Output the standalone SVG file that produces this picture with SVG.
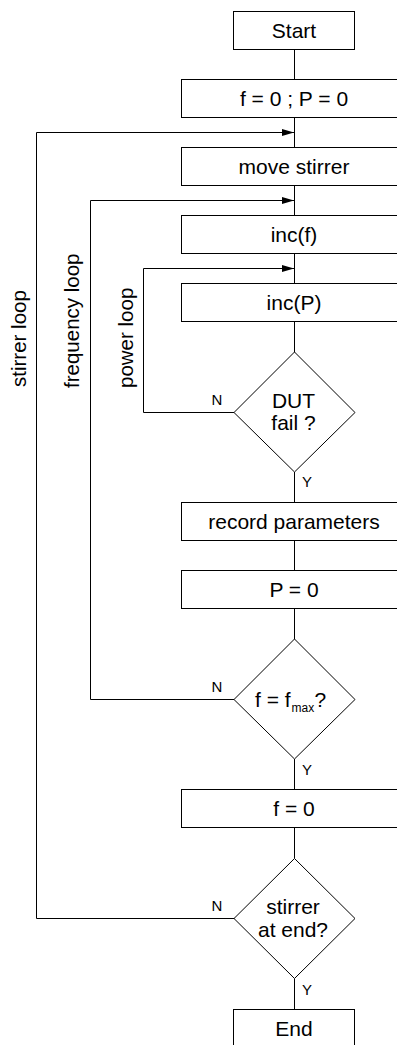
<svg xmlns="http://www.w3.org/2000/svg" width="397" height="1045" viewBox="0 0 397 1045">
  <style>
    .box { fill: #ffffff; stroke: #000000; stroke-width: 1; }
    .wire { fill: none; stroke: #000000; stroke-width: 1; }
    .t { font-family: "Liberation Sans", Arial, sans-serif; font-size: 21px; fill: #000000; text-anchor: middle; }
    .yn { font-family: "Liberation Sans", Arial, sans-serif; font-size: 15px; fill: #000000; text-anchor: middle; }
    .loop { font-family: "Liberation Sans", Arial, sans-serif; font-size: 20.5px; fill: #000000; text-anchor: start; }
  </style>
  <defs>
    <marker id="arrow" markerUnits="userSpaceOnUse" markerWidth="12" markerHeight="8" refX="12" refY="3.5" orient="auto">
      <path d="M0,0 L12,3.5 L0,7 Z" fill="#000000"/>
    </marker>
  </defs>
  <rect width="397" height="1045" fill="#ffffff"/>

  <!-- connectors: main flow and the three return loops -->
  <g id="connectors">
    <path class="wire" d="M294.5,49.5 V79.5"/>
    <path class="wire" d="M294.5,117.5 V147.5"/>
    <path class="wire" d="M294.5,185.5 V215.5"/>
    <path class="wire" d="M294.5,253.5 V283.5"/>
    <path class="wire" d="M294.5,321.5 V352"/>
    <path class="wire" d="M294.5,472 V502.5"/>
    <path class="wire" d="M294.5,540.5 V570.5"/>
    <path class="wire" d="M294.5,608.5 V639"/>
    <path class="wire" d="M294.5,759 V789.5"/>
    <path class="wire" d="M294.5,827.5 V858.5"/>
    <path class="wire" d="M294.5,978.5 V1009.5"/>
    <!-- power loop -->
    <path class="wire" d="M234,412.5 H143.5 V268.5 H294" marker-end="url(#arrow)"/>
    <!-- frequency loop -->
    <path class="wire" d="M234,699.5 H90.5 V200.5 H294" marker-end="url(#arrow)"/>
    <!-- stirrer loop -->
    <path class="wire" d="M234,918.5 H36.5 V132.5 H294" marker-end="url(#arrow)"/>
    <text class="yn" x="217" y="405">N</text>
    <text class="yn" x="307" y="487">Y</text>
    <text class="yn" x="217" y="692">N</text>
    <text class="yn" x="307" y="775">Y</text>
    <text class="yn" x="217" y="911">N</text>
    <text class="yn" x="307" y="995">Y</text>
    <text class="loop" transform="translate(26,387) rotate(-90)">stirrer loop</text>
    <text class="loop" transform="translate(79,388) rotate(-90)">frequency loop</text>
    <text class="loop" transform="translate(133,388) rotate(-90)">power loop</text>
  </g>

  <g id="start">
    <rect class="box" x="233.5" y="11.5" width="121" height="38"/>
    <text class="t" x="294" y="38">Start</text>
  </g>
  <g id="init">
    <rect class="box" x="181.5" y="79.5" width="226" height="38"/>
    <text class="t" x="294" y="106">f = 0 ; P = 0</text>
  </g>
  <g id="move-stirrer">
    <rect class="box" x="181.5" y="147.5" width="226" height="38"/>
    <text class="t" x="294" y="174">move stirrer</text>
  </g>
  <g id="inc-f">
    <rect class="box" x="181.5" y="215.5" width="226" height="38"/>
    <text class="t" x="294" y="242">inc(f)</text>
  </g>
  <g id="inc-p">
    <rect class="box" x="181.5" y="283.5" width="226" height="38"/>
    <text class="t" x="294" y="310">inc(P)</text>
  </g>
  <g id="dut-fail">
    <path class="box" d="M294.5,352 L355,412.5 L294.5,472 L234,412.5 Z"/>
    <text class="t" x="293.5" y="407.5">DUT</text>
    <text class="t" x="293.5" y="429.5">fail ?</text>
  </g>
  <g id="record">
    <rect class="box" x="181.5" y="502.5" width="226" height="38"/>
    <text class="t" x="294" y="529">record parameters</text>
  </g>
  <g id="reset-p">
    <rect class="box" x="181.5" y="570.5" width="226" height="38"/>
    <text class="t" x="294" y="597">P = 0</text>
  </g>
  <g id="f-max">
    <path class="box" d="M294.5,639 L355,699.5 L294.5,759 L234,699.5 Z"/>
    <text class="t" x="255" y="706.5" style="text-anchor:start">f = f</text>
    <text x="291.5" y="712" style="font-family:'Liberation Sans',Arial,sans-serif;font-size:12px">max</text>
    <text class="t" x="314.5" y="706.5" style="text-anchor:start">?</text>
  </g>
  <g id="reset-f">
    <rect class="box" x="181.5" y="789.5" width="226" height="38"/>
    <text class="t" x="294" y="816">f = 0</text>
  </g>
  <g id="stirrer-end">
    <path class="box" d="M294.5,858.5 L355,918.5 L294.5,978.5 L234,918.5 Z"/>
    <text class="t" x="293" y="913.5">stirrer</text>
    <text class="t" x="293" y="936.5">at end?</text>
  </g>
  <g id="end">
    <rect class="box" x="233.5" y="1009.5" width="121" height="38"/>
    <text class="t" x="294" y="1036">End</text>
  </g>
</svg>
